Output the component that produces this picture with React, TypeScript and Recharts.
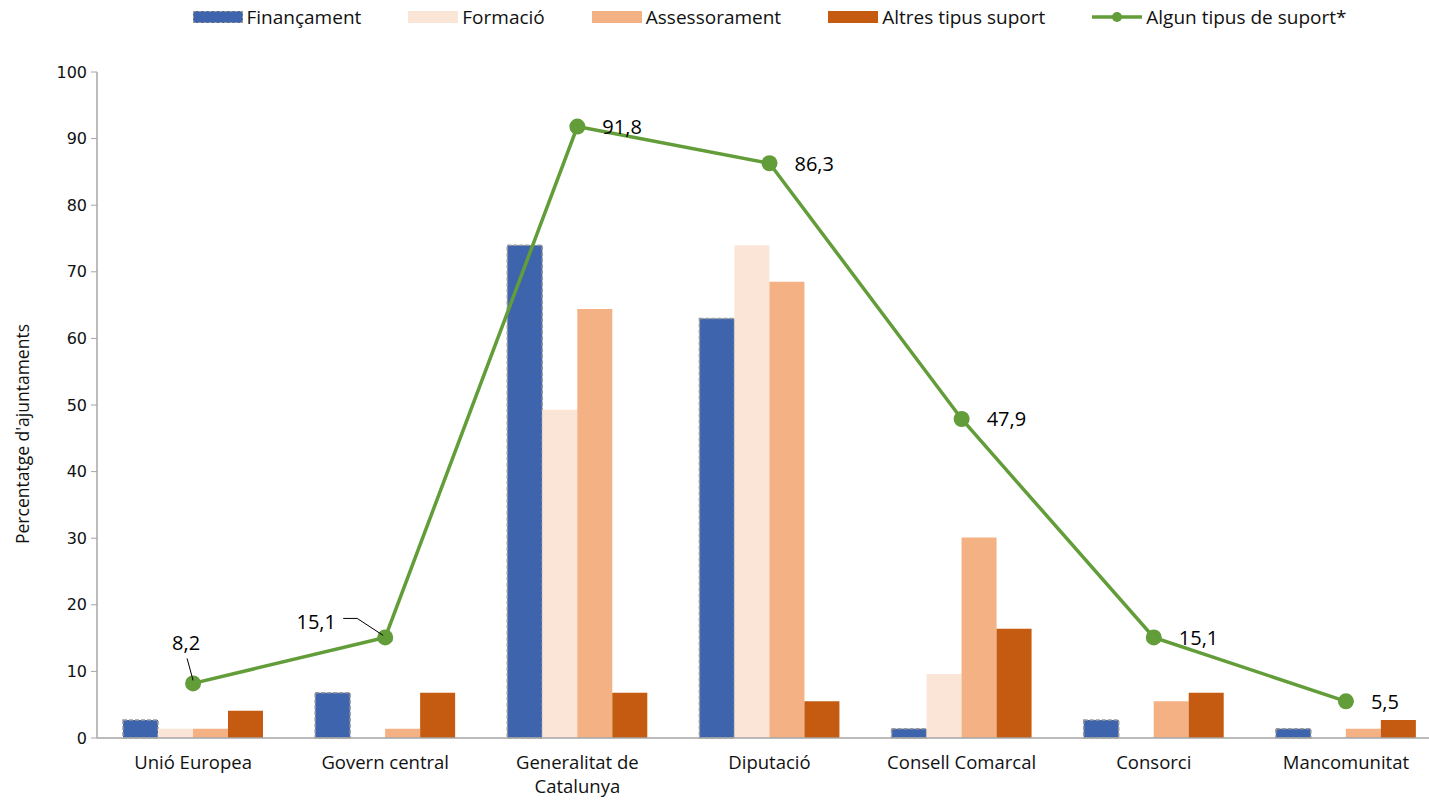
import React from "react";
import { Bar, ComposedChart, LabelList, Line, XAxis, YAxis, Label } from "recharts";

const categories = [
  "Unió Europea",
  "Govern central",
  "Generalitat de Catalunya",
  "Diputació",
  "Consell Comarcal",
  "Consorci",
  "Mancomunitat",
];
const financament = [2.7, 6.8, 74.0, 63.0, 1.4, 2.7, 1.4];
const formacio = [1.4, 0, 49.3, 74.0, 9.6, 0, 0];
const assessorament = [1.4, 1.4, 64.4, 68.5, 30.1, 5.5, 1.4];
const altres = [4.1, 6.8, 6.8, 5.5, 16.4, 6.8, 2.7];
const algunSuport = [8.2, 15.1, 91.8, 86.3, 47.9, 15.1, 5.5];
const yTicks = [0, 10, 20, 30, 40, 50, 60, 70, 80, 90, 100];

const FONT = "'Open Sans', sans-serif";
const GREEN = "#629D3A";

const data = categories.map((name, i) => ({
  name,
  fin: financament[i],
  form: formacio[i],
  asse: assessorament[i],
  altres: altres[i],
  algun: algunSuport[i],
}));

const legendItems = [
  { label: "Finançament", color: "#3E64AE", dashed: true },
  { label: "Formació", color: "#FBE5D6" },
  { label: "Assessorament", color: "#F4B183" },
  { label: "Altres tipus suport", color: "#C55A11" },
  { label: "Algun tipus de suport*", color: GREEN, line: true },
];

function CategoryTick({ x, y, payload }: any) {
  const v: string = payload.value;
  const lines = v === "Generalitat de Catalunya" ? ["Generalitat de", "Catalunya"] : [v];
  return (
    <text x={x} y={y} textAnchor="middle" fontFamily={FONT} fontSize={18.5} fill="#111">
      {lines.map((l, i) => (
        <tspan key={i} x={x} dy={i === 0 ? 23 : 24}>
          {l}
        </tspan>
      ))}
    </text>
  );
}

function PointLabel(props: any) {
  const { x, y, value, index } = props;
  const txt = String(value).replace(".", ",");
  const common = { fontFamily: FONT, fontSize: 20, fill: "#000", dominantBaseline: "central" as const };
  if (index === 0) {
    return (
      <g>
        <line x1={x - 6} y1={y - 25} x2={x} y2={y - 3} stroke="#000" strokeWidth={1} />
        <text x={x - 7} y={y - 41} textAnchor="middle" {...common}>
          {txt}
        </text>
      </g>
    );
  }
  if (index === 1) {
    return (
      <g>
        <polyline
          points={`${x - 42},${y - 19} ${x - 28},${y - 19} ${x - 2},${y - 2}`}
          fill="none"
          stroke="#000"
          strokeWidth={1}
        />
        <text x={x - 69} y={y - 16} textAnchor="middle" {...common}>
          {txt}
        </text>
      </g>
    );
  }
  return (
    <text x={x + 25} y={y} textAnchor="start" {...common}>
      {txt}
    </text>
  );
}

function YTitle({ viewBox }: any) {
  const cx = 22;
  const cy = viewBox.y + viewBox.height / 2 + 29;
  return (
    <text
      x={cx}
      y={cy}
      transform={`rotate(-90, ${cx}, ${cy})`}
      textAnchor="middle"
      dominantBaseline="central"
      fontFamily={FONT}
      fontSize={17.5}
      fill="#111"
    >
      Percentatge d'ajuntaments
    </text>
  );
}

export default function App() {
  return (
    <div style={{ position: "absolute", left: 0, top: 0, width: 1429, height: 800, overflow: "hidden", background: "#fff" }}>
      <div
        style={{
          position: "absolute",
          top: 4,
          left: 97,
          width: 1345,
          display: "flex",
          justifyContent: "center",
          gap: 47,
          fontFamily: FONT,
          fontSize: 19,
          color: "#111",
        }}
      >
        {legendItems.map((it) => (
          <div key={it.label} style={{ display: "flex", alignItems: "center", gap: 4, height: 26 }}>
            {it.line ? (
              <svg width={50} height={12}>
                <line x1={0} y1={6} x2={50} y2={6} stroke={it.color} strokeWidth={3.5} />
                <circle cx={25} cy={6} r={5} fill={it.color} />
              </svg>
            ) : (
              <div
                style={{
                  width: 50,
                  height: 12,
                  boxSizing: "border-box",
                  background: it.color,
                  border: it.dashed ? "1.5px dashed #9a9a9a" : "none",
                }}
              />
            )}
            <span>{it.label}</span>
          </div>
        ))}
      </div>
      <ComposedChart
        width={1445}
        height={800}
        data={data}
        margin={{ top: 72, right: 3, left: 0, bottom: 0 }}
        barCategoryGap={26}
        barGap={0}
      >
        <XAxis
          dataKey="name"
          height={62}
          tickLine={false}
          axisLine={{ stroke: "#A6A6A6", strokeWidth: 1.5 }}
          tick={<CategoryTick />}
          interval={0}
        />
        <YAxis
          width={97}
          domain={[0, 100]}
          ticks={yTicks}
          interval={0}
          tickSize={6}
          tickLine={{ stroke: "#A6A6A6" }}
          axisLine={{ stroke: "#A6A6A6", strokeWidth: 1.5 }}
          tick={{ fontFamily: "'DejaVu Sans', sans-serif", fontSize: 16, fill: "#111" }}
          tickMargin={4}
        >
          <Label content={<YTitle />} />
        </YAxis>
        <Bar dataKey="fin" fill="#3E64AE" stroke="#9a9a9a" strokeWidth={1.5} strokeDasharray="4 2" isAnimationActive={false} />
        <Bar dataKey="form" fill="#FBE5D6" isAnimationActive={false} />
        <Bar dataKey="asse" fill="#F4B183" isAnimationActive={false} />
        <Bar dataKey="altres" fill="#C55A11" isAnimationActive={false} />
        <Line
          dataKey="algun"
          stroke={GREEN}
          strokeWidth={3.5}
          dot={{ r: 8, fill: GREEN, stroke: "none" }}
          activeDot={false}
          isAnimationActive={false}
        >
          <LabelList dataKey="algun" content={<PointLabel />} />
        </Line>
      </ComposedChart>
    </div>
  );
}
